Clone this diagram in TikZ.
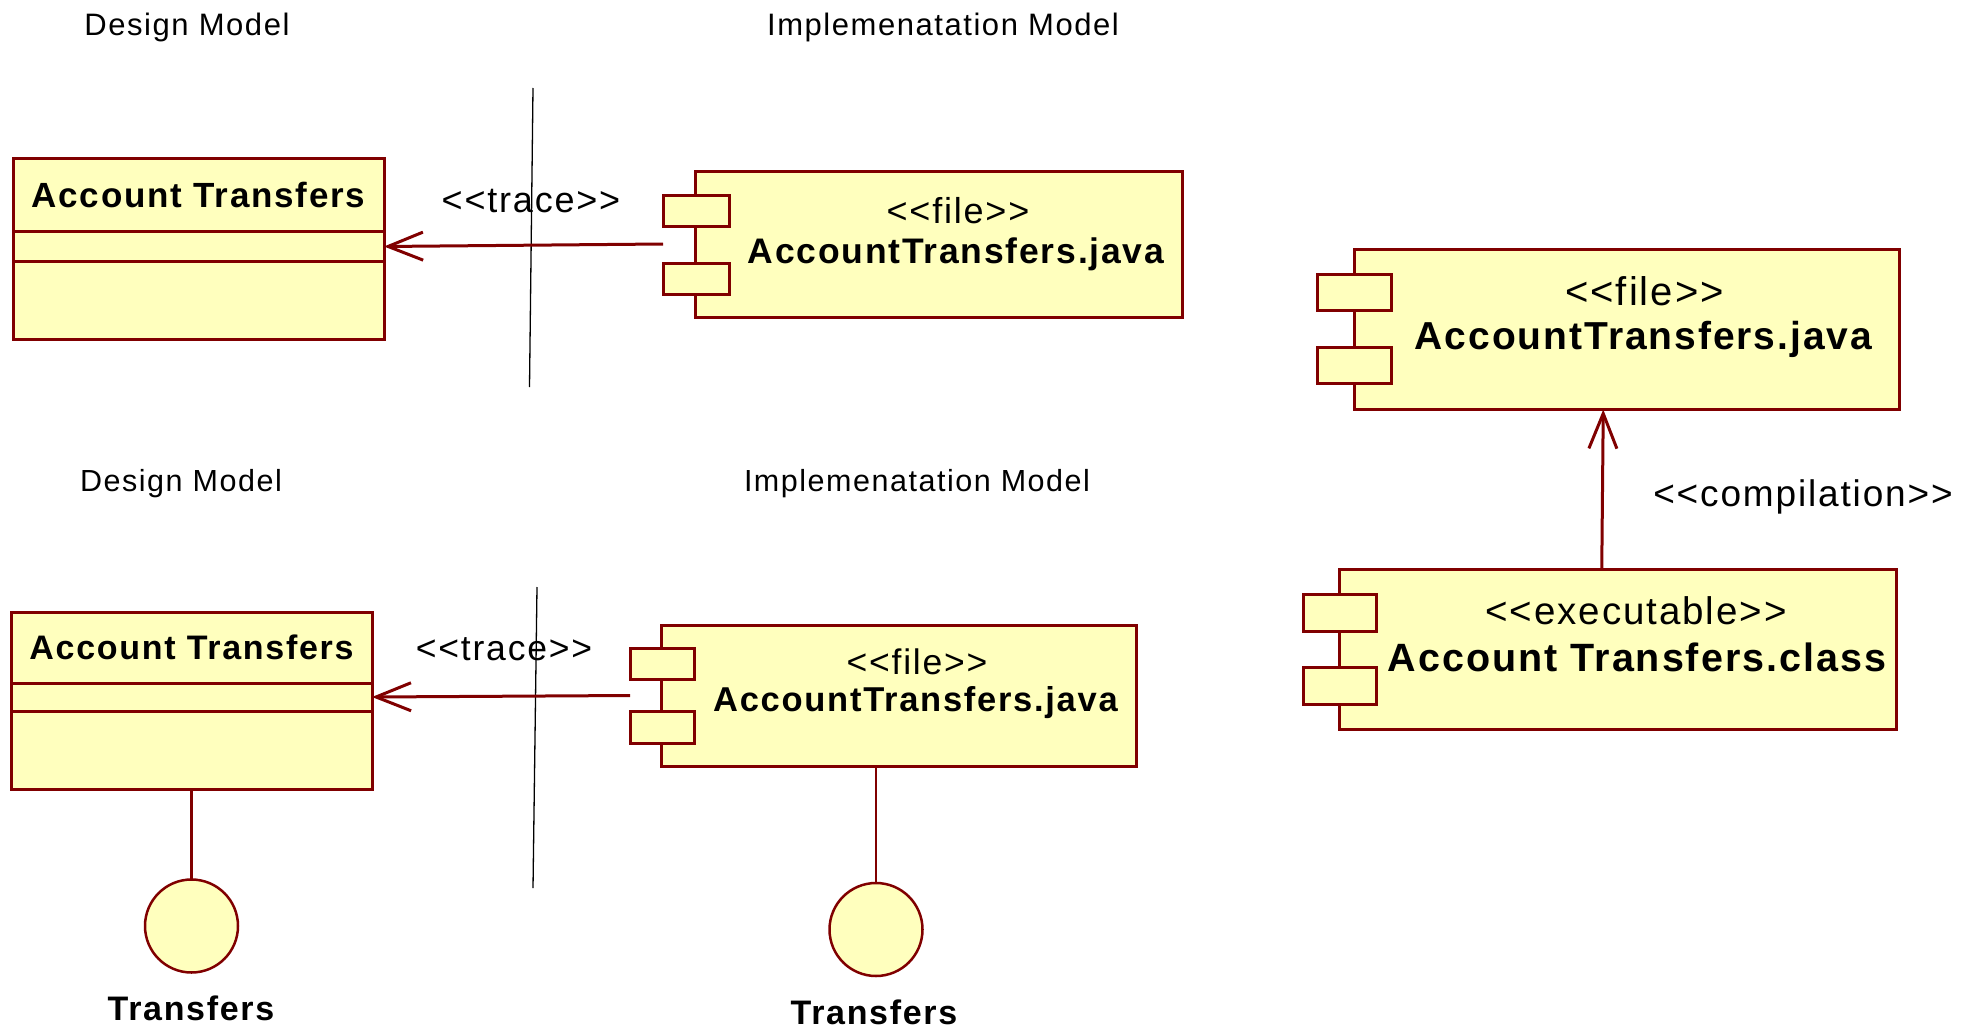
\documentclass[tikz,border=0pt]{standalone}
\usepackage{fontspec}
\usetikzlibrary{arrows.meta}
\newfontfamily\umlfont{Liberation Sans}[LetterSpace=5]
\definecolor{umlred}{RGB}{128,0,0}
\definecolor{umlfill}{RGB}{255,255,190}

\begin{document}
\begin{tikzpicture}[x=1pt,y=-1pt,
  box/.style={draw=umlred,fill=umlfill,line width=3pt,inner sep=0pt,outer sep=0pt},
  txt/.style={font=\umlfont\fontsize{#1}{#1}\selectfont,inner sep=0pt},
  bld/.style={font=\umlfont\bfseries\fontsize{#1}{#1}\selectfont,inner sep=0pt},
  trace/.style={draw=umlred,line width=3pt,-{Straight Barb[length=35pt,width=28pt]}},
  sepline/.style={draw=black,line width=1.3pt},
  stick/.style={draw=umlred,line width=2.2pt}]
\useasboundingbox (0,0) rectangle (1972,1030);
{
%% top: trace
\node[txt=31] (dm1) at (187,27) {Design Model};
\node[txt=31] (im1) at (943,27) {Implemenatation Model};
\node[box,anchor=north west,minimum width=371pt,minimum height=73pt,bld=35] (cls1) at (13,158.5) {Account Transfers};
\node[box,anchor=north,minimum width=371pt,minimum height=30pt] (cls1a) at (cls1.south) {};
\node[box,anchor=north,minimum width=371pt,minimum height=78pt] (cls1o) at (cls1a.south) {};
\node[box,anchor=north west,minimum width=486.5pt,minimum height=146pt] (comp1) at (695.5,171) {};
\node[box,anchor=north west,minimum width=66.5pt,minimum height=31pt] (port1a) at (663,195) {};
\node[box,anchor=north west,minimum width=66.5pt,minimum height=31pt] (port1b) at (663,263) {};
\node[txt=36] (comp1st) at (958,211) {<<file>>};
\node[bld=35.5] (comp1nm) at (956,254) {AccountTransfers.java};
\coordinate (sep1t) at (533,88);
\coordinate (sep1b) at (529.5,387);
\draw[sepline] (sep1t) -- (sep1b);
\draw[trace] (port1a.west |- comp1.west) -- (cls1a.east);
\node[txt=36] (trace1) at (531,201) {<<trace>>};
%
%% bottom: trace with interfaces
\node[txt=30.5] (dm2) at (181,483.5) {Design Model};
\node[txt=30.5] (im2) at (917,483.5) {Implemenatation Model};
\node[box,anchor=north west,minimum width=361pt,minimum height=70.5pt,bld=34] (cls2) at (11,612.5) {Account Transfers};
\node[box,anchor=north,minimum width=361pt,minimum height=28pt] (cls2a) at (cls2.south) {};
\node[box,anchor=north,minimum width=361pt,minimum height=78pt] (cls2o) at (cls2a.south) {};
\node[box,anchor=north west,minimum width=474.5pt,minimum height=141pt] (comp2) at (661.5,625) {};
\node[box,anchor=north west,minimum width=64pt,minimum height=31pt] (port2a) at (630,648.5) {};
\node[box,anchor=north west,minimum width=64pt,minimum height=32pt] (port2b) at (630,711) {};
\node[txt=35.5] (comp2st) at (917,662) {<<file>>};
\node[bld=34.5] (comp2nm) at (915.5,703) {AccountTransfers.java};
\coordinate (sep2t) at (537,587);
\coordinate (sep2b) at (533,888);
\draw[sepline] (sep2t) -- (sep2b);
\draw[trace] (port2a.west |- comp2.west) -- (cls2a.east);
\node[txt=35.5] (trace2) at (504,649.5) {<<trace>>};
\node[box,circle,line width=2.5pt,minimum size=93pt] (if1) at (191.5,926) {};
\draw[stick] (cls2o.south) -- (if1.north);
\node[bld=34] (if1nm) at (191,1008.5) {Transfers};
\node[box,circle,line width=2.5pt,minimum size=93pt] (if2) at (876,929.5) {};
\draw[stick] (if2.north) -- (if2.north |- comp2.south);
\node[bld=34] (if2nm) at (874,1012.5) {Transfers};
%
%% right: compilation
\node[box,anchor=north west,minimum width=544.5pt,minimum height=160pt] (comp3) at (1354.5,249.5) {};
\node[box,anchor=north west,minimum width=73.5pt,minimum height=36pt] (port3a) at (1317.5,274.5) {};
\node[box,anchor=north west,minimum width=73.5pt,minimum height=36pt] (port3b) at (1317.5,347.5) {};
\node[txt=40] (comp3st) at (1644.5,291.5) {<<file>>};
\node[bld=39] (comp3nm) at (1643.5,339) {AccountTransfers.java};
\node[box,anchor=north west,minimum width=556.5pt,minimum height=159.5pt] (comp4) at (1339.5,569.5) {};
\node[box,anchor=north west,minimum width=73.5pt,minimum height=37pt] (port4a) at (1303,594.5) {};
\node[box,anchor=north west,minimum width=73.5pt,minimum height=37pt] (port4b) at (1303,667) {};
\node[txt=38.5] (comp4st) at (1636,610.5) {<<executable>>};
\node[bld=39.5] (comp4nm) at (1637,657.5) {Account Transfers.class};
\draw[trace] ([xshift=-16pt]comp4.north) -- ([xshift=-23.5pt]comp3.south);
\node[txt=37] (compil) at (1803,497) {<<compilation>>};
}
\end{tikzpicture}
\end{document}
